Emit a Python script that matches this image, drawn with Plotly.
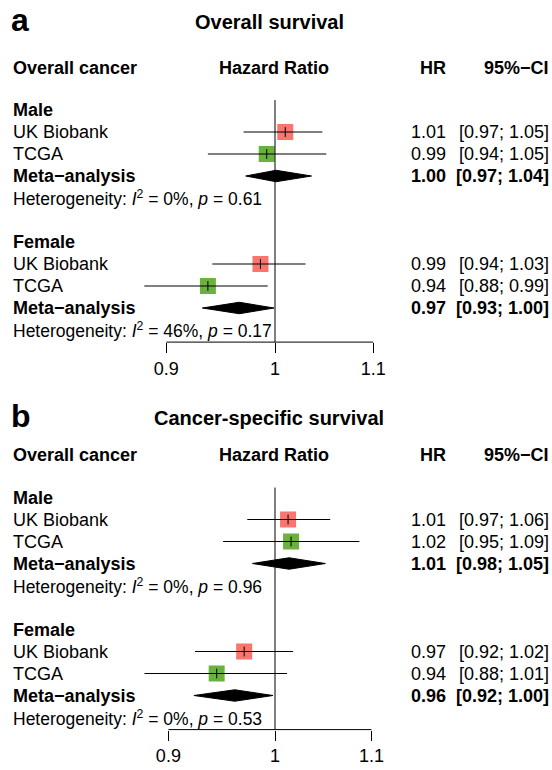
import math
import plotly.graph_objects as go

# ---------------- data ----------------
studies = ["UK Biobank", "TCGA"]
groups = ["Male", "Female"]

# Panel a: Overall survival  (per group: [UKB, TCGA], meta)
os_hr = {"Male": [1.010, 0.992], "Female": [0.986, 0.937]}
os_lo = {"Male": [0.970, 0.937], "Female": [0.941, 0.881]}
os_hi = {"Male": [1.047, 1.051], "Female": [1.030, 0.993]}
os_meta_hr = {"Male": 1.001, "Female": 0.966}
os_meta_lo = {"Male": 0.972, "Female": 0.932}
os_meta_hi = {"Male": 1.036, "Female": 0.999}
os_i2 = {"Male": "0%", "Female": "46%"}
os_p = {"Male": "0.61", "Female": "0.17"}

# Panel b: Cancer-specific survival
css_hr = {"Male": [1.013, 1.016], "Female": [0.970, 0.944]}
css_lo = {"Male": [0.973, 0.950], "Female": [0.924, 0.879]}
css_hi = {"Male": [1.056, 1.087], "Female": [1.018, 1.012]}
css_meta_hr = {"Male": 1.014, "Female": 0.961}
css_meta_lo = {"Male": 0.978, "Female": 0.923}
css_meta_hi = {"Male": 1.051, "Female": 0.998}
css_i2 = {"Male": "0%", "Female": "0%"}
css_p = {"Male": "0.96", "Female": "0.53"}

tick_vals = [0.9, 1.0, 1.1]
tick_text = ["0.9", "1", "1.1"]

study_colors = {"UK Biobank": "#F8766D", "TCGA": "#6BB13E"}

W, H = 552, 770
FONT = "Liberation Sans, Arial, Helvetica, sans-serif"
ROW = 22.0

def py(p):
    return 1 - p / H

def px(p):
    return p / W

fig = go.Figure()
annotations = []
shapes = []

panels = [
    dict(letter="a", title="Overall survival", hr=os_hr, lo=os_lo, hi=os_hi,
         mhr=os_meta_hr, mlo=os_meta_lo, mhi=os_meta_hi, i2=os_i2, p=os_p,
         male_px=110.0, title_px=22.0, header_px=68.0, ax="x", ay="y",
         pxlog=2375.0),
    dict(letter="b", title="Cancer-specific survival", hr=css_hr, lo=css_lo, hi=css_hi,
         mhr=css_meta_hr, mlo=css_meta_lo, mhi=css_meta_hi, i2=css_i2, p=css_p,
         male_px=497.5, title_px=418.0, header_px=455.0, ax="x2", ay="y2",
         pxlog=2330.0),
]

group_row = {"Male": 0, "Female": 6}
REF_PX = 275.0

for k, P in enumerate(panels):
    xa, ya = P["ax"], P["ay"]
    top = P["male_px"] - 0.45 * ROW
    bot = P["male_px"] + 10.55 * ROW
    ax_suffix = "" if k == 0 else "2"
    fig.layout["yaxis" + ax_suffix] = dict(
        domain=[py(bot), py(top)], range=[10.55, -0.45], visible=False,
        anchor=xa, fixedrange=True)
    lo_log = -REF_PX / P["pxlog"]
    hi_log = (W - REF_PX) / P["pxlog"]
    fig.layout["xaxis" + ax_suffix] = dict(
        domain=[0, 1], type="log", range=[lo_log, hi_log], anchor=ya,
        showgrid=False, zeroline=False, showline=False,
        ticks="outside", ticklen=10, tickwidth=1, tickcolor="black",
        tickvals=tick_vals, ticktext=tick_text,
        tickfont=dict(family=FONT, size=18, color="black"), fixedrange=True)

    # axis line 0.9 - 1.1 and reference line at 1
    shapes.append(dict(type="line", xref=xa, yref=ya + " domain",
                       x0=tick_vals[0], x1=tick_vals[-1], y0=0, y1=0,
                       line=dict(color="black", width=1)))
    shapes.append(dict(type="line", xref=xa, yref=ya + " domain",
                       x0=1.0, x1=1.0, y0=0, y1=1,
                       line=dict(color="black", width=1)))

    ci_x, ci_y = [], []
    for g in groups:
        r0 = group_row[g]
        for j, s in enumerate(studies):
            r = r0 + 1 + j
            fig.add_trace(go.Scatter(
                x=[P["hr"][g][j]], y=[r], xaxis=xa, yaxis=ya, mode="markers",
                marker=dict(symbol="square", size=16, color=study_colors[s],
                            line=dict(width=0)),
                showlegend=False, hoverinfo="skip"))
            ci_x += [P["lo"][g][j], P["hi"][g][j], None]
            ci_y += [r, r, None]
        # meta diamond
        rm = r0 + 3
        h = 0.26
        fig.add_trace(go.Scatter(
            x=[P["mlo"][g], P["mhr"][g], P["mhi"][g], P["mhr"][g], P["mlo"][g]],
            y=[rm, rm - h, rm, rm + h, rm], xaxis=xa, yaxis=ya,
            mode="lines", fill="toself", fillcolor="black",
            line=dict(color="black", width=1), showlegend=False, hoverinfo="skip"))

    fig.add_trace(go.Scatter(x=ci_x, y=ci_y, xaxis=xa, yaxis=ya, mode="lines",
                             line=dict(color="black", width=1.2),
                             showlegend=False, hoverinfo="skip"))
    pt_x, pt_y = [], []
    for g in groups:
        for j in range(len(studies)):
            pt_x.append(P["hr"][g][j])
            pt_y.append(group_row[g] + 1 + j)
    fig.add_trace(go.Scatter(x=pt_x, y=pt_y, xaxis=xa, yaxis=ya, mode="markers",
                             marker=dict(symbol="line-ns", size=7,
                                         line=dict(color="black", width=1)),
                             showlegend=False, hoverinfo="skip"))

    # ---- text ----
    annotations.append(dict(text="<b>%s</b>" % P["letter"], xref="paper", yref="paper",
                            x=px(9), y=py(P["title_px"] - 2), xanchor="left", yanchor="middle",
                            showarrow=False, font=dict(family=FONT, size=32, color="black")))
    annotations.append(dict(text="<b>%s</b>" % P["title"], xref="paper", yref="paper",
                            x=px(269), y=py(P["title_px"]), xanchor="center", yanchor="middle",
                            showarrow=False, font=dict(family=FONT, size=20, color="black")))
    hy = py(P["header_px"])
    for txt, xx, anc in [("Overall cancer", 11, "left"), ("Hazard Ratio", 274, "center"),
                         ("HR", 448, "right"), ("95%\u2212CI", 551, "right")]:
        annotations.append(dict(text="<b>%s</b>" % txt, xref="paper", yref="paper",
                                x=px(xx), y=hy, xanchor=anc, yanchor="middle",
                                showarrow=False, font=dict(family=FONT, size=18, color="black")))

    def row_text(txt, r, xx, anc, size=18):
        annotations.append(dict(text=txt, xref="paper", yref=ya, x=px(xx), y=r,
                                xanchor=anc, yanchor="middle", showarrow=False,
                                font=dict(family=FONT, size=size, color="black")))

    for g in groups:
        r0 = group_row[g]
        row_text("<b>%s</b>" % g, r0, 11, "left")
        for j, s in enumerate(studies):
            r = r0 + 1 + j
            row_text(s, r, 11, "left")
            row_text("%.2f" % P["hr"][g][j], r, 448, "right")
            row_text("[%.2f; %.2f]" % (P["lo"][g][j], P["hi"][g][j]), r, 551, "right")
        rm = r0 + 3
        row_text("<b>Meta\u2212analysis</b>", rm, 11, "left")
        row_text("<b>%.2f</b>" % P["mhr"][g], rm, 448, "right")
        row_text("<b>[%.2f; %.2f]</b>" % (P["mlo"][g], P["mhi"][g]), rm, 551, "right")
        row_text("Heterogeneity: <i>I</i><sup>2</sup> = %s, <i>p</i> = %s" % (P["i2"][g], P["p"][g]),
                 r0 + 4, 11, "left", size=17.5)

fig.update_layout(width=W, height=H, margin=dict(l=0, r=0, t=0, b=0),
                  paper_bgcolor="white", plot_bgcolor="white",
                  annotations=annotations, shapes=shapes, showlegend=False)

fig.write_html("out.html", config={"displayModeBar": False, "staticPlot": True},
               post_script="document.body.style.margin='0';document.body.style.padding='0';"
                           "document.documentElement.style.overflow='hidden';")
